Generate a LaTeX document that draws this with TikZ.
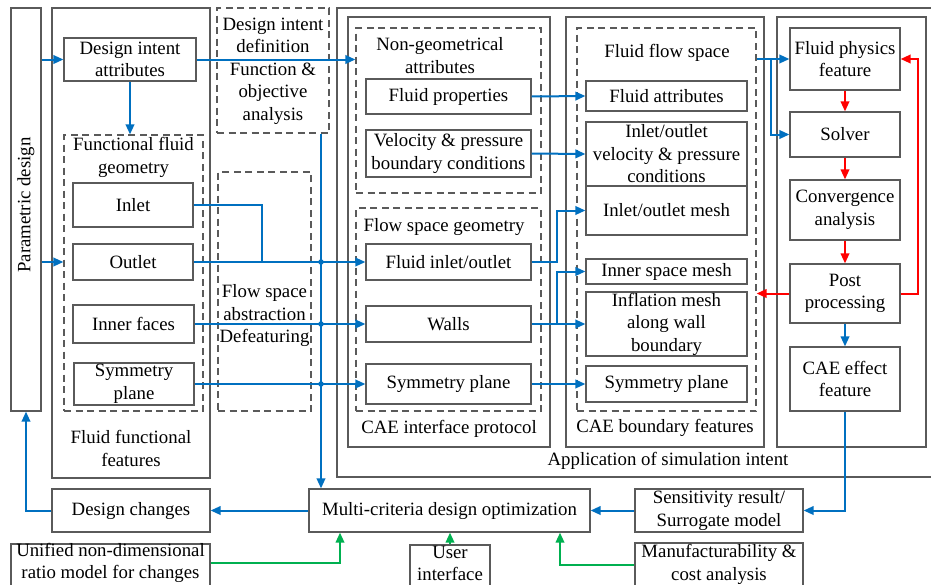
\documentclass[tikz,border=0pt]{standalone}
\usepackage{fontspec}
\setmainfont{Liberation Serif}
\usetikzlibrary{arrows.meta,calc}
\definecolor{bgray}{RGB}{90,90,90}
\definecolor{ablue}{RGB}{0,112,192}
\definecolor{ared}{RGB}{255,0,0}
\definecolor{agreen}{RGB}{0,176,80}
\tikzset{
 box/.style={draw=bgray,line width=1.2pt,inner sep=0pt,align=center,font=\fontsize{18.8}{22.5}\selectfont},
 dbox/.style={box,dash pattern=on 7pt off 4.5pt},
 lbl/.style={inner sep=0pt,align=center,font=\fontsize{18.8}{22.5}\selectfont},
 tip/.style={-{Triangle[length=10pt,width=8.5pt]}},
 bln/.style={draw=ablue,line width=2pt},
 bl/.style={bln,tip},
 rl/.style={draw=ared,line width=2pt,tip},
 gl/.style={draw=agreen,line width=2pt,tip},
 jdot/.style={circle,fill=ablue,inner sep=0pt,minimum size=5.5pt},
}
\newcommand\rbox[7][box]{\node[#1,minimum width={(#5-#3)*1pt},minimum height={(#6-#4)*1pt}] (#2) at ({(#3+#5)/2},{(#4+#6)/2}) {#7};}
\begin{document}
\begin{tikzpicture}[x=1pt,y=-1pt]
\clip (0,0) rectangle (931,584);
\fill[white] (0,0) rectangle (931,584);
% containers
\rbox{pd}{11}{8}{41}{411}{}
\node[lbl,rotate=90] (pdl) at (26,205) {Parametric design};
\rbox{fff}{52}{8}{210}{478}{}
\node[lbl] (fffl) at (131,448.5) {Fluid functional\\features};
\rbox[dbox]{ffg}{64}{135}{203}{411}{}
\node[lbl] (ffgl) at (133.5,157.5) {Functional fluid\\geometry};
\rbox[dbox]{did}{217}{8}{329}{133}{}
\node[lbl] (didl) at (273,71) {Design intent\\definition\\Function \&\\objective\\analysis};
\rbox[dbox]{fsa}{218}{172}{311}{411}{}
\node[lbl] (fsal) at (264.5,315.5) {Flow space\\abstraction\\Defeaturing};
\rbox{app}{337}{8}{945}{477}{}
\node[lbl] (appl) at (668,461) {Application of simulation intent};
\rbox{cip}{348}{17}{550}{447}{}
\node[lbl] (cipl) at (449,429) {CAE interface protocol};
\rbox[dbox]{nga}{356}{28}{541}{193}{}
\node[lbl] (ngal) at (440,55.5) {Non-geometrical\\attributes};
\rbox[dbox]{fsg}{356}{208}{541}{411}{}
\node[lbl] (fsgl) at (444,227) {Flow space geometry};
\rbox{cbf}{566}{17}{764}{447}{}
\node[lbl] (cbfl) at (665,428) {CAE boundary features};
\rbox[dbox]{ffs}{577}{28}{756}{411}{}
\node[lbl] (ffsl) at (667,53) {Fluid flow space};
\rbox{sim}{777}{17}{926}{447}{}
% boxes
\rbox{dia}{64}{38}{196}{81}{Design intent\\attributes}
\rbox{inlet}{73}{183}{193}{227}{Inlet}
\rbox{outlet}{73}{244}{193}{280}{Outlet}
\rbox{inner}{73}{305}{194}{343}{Inner faces}
\rbox{syma}{74}{363}{194}{405}{Symmetry\\plane}
\rbox{fprop}{366}{79}{531}{114}{Fluid properties}
\rbox{vpb}{366}{130}{531}{177}{Velocity \& pressure\\boundary conditions}
\rbox{fio}{366}{244}{531}{280}{Fluid inlet/outlet}
\rbox{walls}{366}{306}{531}{342}{Walls}
\rbox{symb}{366}{364}{531}{404}{Symmetry plane}
\rbox{fattr}{586}{81}{747}{111}{Fluid attributes}
\rbox{iovp}{586}{122}{747}{186}{Inlet/outlet\\velocity \& pressure\\conditions}
\rbox{iom}{586}{186}{747}{235}{Inlet/outlet mesh}
\rbox{ism}{586}{259}{747}{284}{Inner space mesh}
\rbox{infl}{586}{292}{747}{356}{Inflation mesh\\along wall\\boundary}
\rbox{symc}{586}{366}{747}{402}{Symmetry plane}
\rbox{fpf}{790}{28}{900}{90}{Fluid physics\\feature}
\rbox{solver}{790}{112}{900}{157}{Solver}
\rbox{conv}{790}{180}{900}{240}{Convergence\\analysis}
\rbox{post}{790}{264}{900}{323}{Post\\processing}
\rbox{cae}{790}{347}{900}{411}{CAE effect\\feature}
\rbox{dc}{52}{489}{210}{532}{Design changes}
\rbox{mco}{309}{489}{590}{532}{Multi-criteria design optimization}
\rbox{sens}{635}{489}{803}{532}{Sensitivity result/\\Surrogate model}
\rbox{un}{11}{544}{210}{589}{}
\node[lbl] (unl) at (110.5,563) {Unified non-dimensional\\ratio model for changes};
\rbox{ui}{410}{545}{490}{588}{}
\node[lbl] (uil) at (450,563.5) {User\\interface};
\rbox{mfg}{635}{543}{803}{586}{Manufacturability \&\\cost analysis}
% helper coordinates
\coordinate (vx) at (321,0);
\coordinate (jx) at (262,0);
\coordinate (bx) at (557,0);
\coordinate (cx) at (771,0);
\coordinate (rx) at (918,0);
\coordinate (g1) at (340,0);
\coordinate (g2) at (560,0);
% blue connectors
\draw[bl] (pd.east |- dia.west) -- (dia.west);
\draw[bl] (pd.east |- outlet.west) -- (ffg.west |- outlet.west);
\draw[bl] (dia.south) -- (dia.south |- ffg.north);
\draw[bl] (dia.east) -- (dia.east -| nga.west);
\draw[bln] (inlet.east) -| (jx |- outlet.east);
\draw[bl] (outlet.east) -- (fio.west);
\draw[bl] (inner.east) -- (walls.west);
\draw[bl] (syma.east) -- (symb.west);
\draw[bl] (did.south -| vx) -- (vx |- mco.north);
\node[jdot] (d1) at (vx |- outlet.east) {};
\node[jdot] (d2) at (vx |- inner.east) {};
\node[jdot] (d3) at (vx |- syma.east) {};
\draw[bl] (fprop.east) -- (fattr.west);
\draw[bl] (vpb.east) -- (iovp.west);
\draw[bl] (fio.east) -| (bx |- iom.west) -- (iom.west);
\draw[bl] (walls.east) -- (infl.west);
\draw[bl] (walls.east -| bx) |- (ism.west);
\draw[bl] (symb.east) -- (symc.west);
\draw[bl] (ffs.east |- fpf.west) -- (fpf.west);
\draw[bl] (cx |- fpf.west) |- (solver.west);
% red
\draw[rl] (fpf.south) -- (solver.north);
\draw[rl] (solver.south) -- (conv.north);
\draw[rl] (conv.south) -- (post.north);
\draw[rl] (post.west) -- (post.west -| ffs.east);
\draw[rl] (post.east) -| (rx |- fpf.east) -- (fpf.east);
% bottom blue
\draw[bl] (post.south) -- (cae.north);
\draw[bl] (cae.south) |- (sens.east);
\draw[bl] (sens.west) -- (mco.east);
\draw[bl] (mco.west) -- (dc.east);
\draw[bl] (dc.west) -| (pd.south);
% green
\draw[gl] (un.east |- unl.east) -| (g1 |- mco.south);
\draw[gl] (ui.north) -- (ui.north |- mco.south);
\draw[gl] (mfg.west) -| (g2 |- mco.south);
\end{tikzpicture}
\end{document}
